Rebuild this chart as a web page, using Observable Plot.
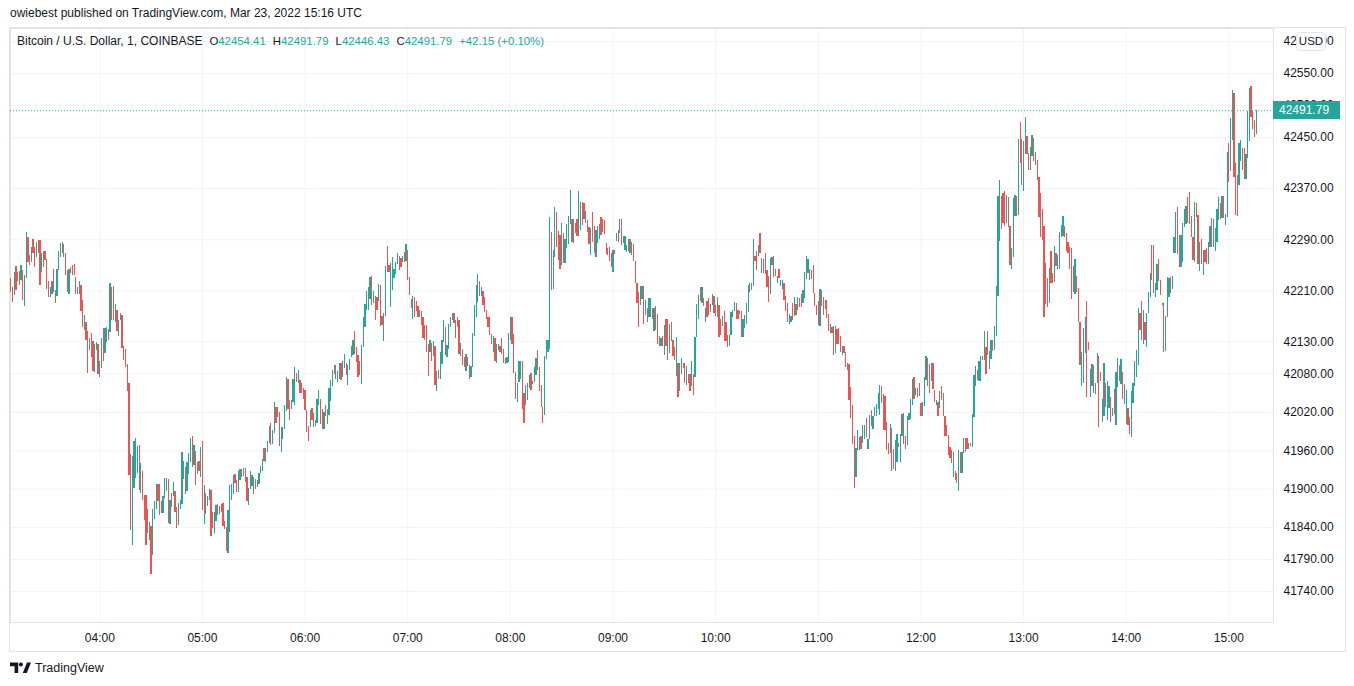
<!DOCTYPE html>
<html><head><meta charset="utf-8">
<script src="https://cdn.jsdelivr.net/npm/d3@7"></script>
<script src="https://cdn.jsdelivr.net/npm/@observablehq/plot@0.6"></script>
<style>
body{margin:0;background:#fff;font-family:"Liberation Sans",Arial,sans-serif;color:#131722;}
#wrap{position:relative;width:1354px;height:686px;overflow:hidden;background:#fff;}
#chart{position:absolute;left:0;top:0;}
#pub{position:absolute;left:10px;top:6px;font-size:12px;white-space:nowrap;}
#frame{position:absolute;left:9px;top:27px;width:1335px;height:623px;border:1px solid #e0e3eb;pointer-events:none;}
#legend{position:absolute;left:17px;top:34px;font-size:12px;white-space:nowrap;display:flex;gap:7px;align-items:baseline;}
#legend .g{font-size:11.4px;}
#legend .v{color:#26a69a;}
#usd{position:absolute;left:1296px;top:32px;width:28px;height:17px;line-height:17px;border:1px solid #e0e3eb;border-radius:4px;background:#fff;font-size:11.5px;text-align:center;}
#plabel{position:absolute;left:1273px;width:67px;height:18px;line-height:18px;background:#26a69a;color:#fff;font-size:12px;padding-left:6px;box-sizing:border-box;}
#logo{position:absolute;left:10px;top:661px;font-size:12.5px;display:flex;align-items:center;gap:4px;}
</style></head><body>
<div id="wrap">
  <div id="chart"></div>
  <div id="frame"></div>
  <div id="pub">owiebest published on TradingView.com, Mar 23, 2022 15:16 UTC</div>
  <div id="legend"></div>
  <div id="usd">USD</div>
  <div id="plabel"></div>
  <div id="logo"><svg width="21" height="12" viewBox="0 0 23 12"><path d="M0 0H9V11.5H5V4H0Z" fill="#131722"/><circle cx="12" cy="2.2" r="2.2" fill="#131722"/><path d="M14 11.5L18.6 0H23L18.4 11.5Z" fill="#131722"/></svg><span>TradingView</span></div>
</div>
<script>
// ---- data: 1-minute candles, [open, close] ----
const bars0308 = [[42229,42208],[42216,42192],[42203,42239],[42248,42210],[42239,42224],[42241,42218],[42226,42250],[42242,42195],[42185,42234],[42230,42302],[42294,42255],[42265,42250],[42255,42278],[42291,42268],[42278,42247],[42263,42286],[42289,42268],[42289,42218],[42239,42269],[42247,42271],[42272,42257],[42259,42213],[42224,42199],[42200,42216],[42205,42224],[42243,42208],[42211,42191],[42201,42243],[42242,42271],[42263,42284],[42268,42285],[42282,42263],[42269,42234],[42242,42208],[42205,42244],[42247,42237],[42250,42234],[42251,42234],[42231,42205],[42216,42204],[42205,42224],[42218,42178],[42195,42153],[42148,42171],[42161,42132],[42147,42081],[42117,42135],[42144,42106],[42131,42084],[42083,42127],[42117,42130],[42126,42079],[42075,42100],[42088,42135],[42152,42099],[42112,42152],[42130,42153],[42149,42133],[42145,42222],[42215,42164],[42217,42163],[42160,42189],[42179,42147],[42138,42164],[42164,42175],[42172,42120],[42123,42101],[42119,42091],[42095,42052],[42065,41921],[41955,41835],[41812,41951],[41901,41974],[41916,41979],[41924,41966],[41968,41898],[41893,41940],[41928,41883],[41890,41851],[41890,41812],[41868,41830],[41820,41848],[41842,41767],[41796,41868],[41852,41880],[41868,41907],[41907,41880],[41907,41859],[41880,41862],[41862,41888],[41885,41916]];
const bars0439 = [[41897,41916],[41915,41846],[41845,41882],[41872,41894],[41889,41910],[41897,41863],[41871,41838],[41843,41877],[41868,41883],[41876,41958],[41915,41944],[41934,41892],[41897,41941],[41923,41956],[41941,41980],[41982,41934],[41937,41968],[41959,41906],[41923,41942],[41944,41927],[41918,41965],[41974,41866],[41845,41906],[41894,41860],[41873,41889],[41883,41899],[41898,41826],[41864,41838],[41831,41863],[41849,41875],[41876,41859],[41860,41873],[41876,41863],[41877,41842],[41850,41837],[41840,41803],[41800,41866],[41833,41906],[41883,41907],[41892,41921],[41923,41909],[41913,41895],[41895,41928],[41913,41930],[41930,41919],[41920,41932],[41932,41911],[41919,41880],[41875,41901],[41899,41927],[41904,41921],[41918,41892],[41899,41915],[41914,41902],[41908,41925],[41924,41936],[41928,41947],[41963,41944],[41942,41963],[41958,41975],[41972,41998],[42002,41968],[41970,41992],[41987,42036],[42028,42002],[42027,42012],[42020,41967],[41958,41997],[41977,41996],[41994,42031],[42022,42075],[42071,42024],[42039,42008],[42024,42038],[42035,42071],[42031,42091],[42081,42067],[42065,42086],[42070,42049],[42065,42049],[42058,42040],[42055,42023],[42023,41988],[41998,41975],[41996,42023],[42026,42008],[42019,41996],[41998,42008],[42003,42041],[42031,42055],[42040,42001],[42024,41993],[41994,42020],[42013,42031]];
const bars0613 = [[42025,42001],[42015,42057],[42037,42070],[42060,42085],[42079,42093],[42093,42072],[42067,42084],[42072,42096],[42097,42070],[42074,42100],[42088,42110],[42097,42078],[42062,42093],[42085,42102],[42106,42123],[42109,42133],[42147,42111],[42122,42098],[42109,42075],[42100,42078],[42064,42124],[42122,42169],[42153,42189],[42179,42209],[42180,42216],[42197,42231],[42232,42187],[42190,42209],[42201,42164],[42200,42180],[42194,42220],[42218,42154],[42170,42156],[42131,42174],[42170,42248],[42279,42239],[42250,42239],[42184,42253],[42210,42263],[42229,42244],[42235,42255],[42251,42268],[42264,42242],[42261,42246],[42255,42264],[42270,42255],[42256,42282],[42273,42227],[42231,42203],[42197,42183],[42165,42201],[42200,42168],[42194,42178],[42185,42168],[42169,42179],[42178,42156],[42169,42135],[42156,42133],[42156,42114],[42127,42076],[42114,42132],[42128,42100],[42107,42131],[42123,42062],[42052,42084],[42085,42072],[42072,42114],[42095,42132],[42130,42164],[42153,42109],[42106,42124],[42119,42157],[42153,42169],[42164,42174],[42174,42159],[42164,42135],[42153,42169],[42164,42111],[42107,42128],[42119,42093],[42106,42090],[42084,42111],[42106,42092],[42093,42071],[42074,42092],[42091,42143],[42138,42187],[42168,42218],[42192,42236],[42225,42201],[42201,42215],[42209,42187],[42200,42177]];
const bars0746 = [[42180,42166],[42169,42153],[42168,42140],[42142,42127],[42114,42139],[42135,42100],[42097,42126],[42117,42126],[42123,42114],[42136,42111],[42119,42097],[42105,42095],[42096,42106],[42098,42144],[42132,42169],[42169,42127],[42142,42081],[42083,42040],[42036,42065],[42067,42100],[42072,42100],[42100,42024],[42050,42003],[42031,42062],[42039,42066],[42057,42078],[42081,42054],[42069,42064],[42067,42091],[42078,42104],[42117,42086],[42091,42052],[42062,42027],[42027,42002],[42015,42107],[42102,42133],[42114,42133],[42119,42325],[42302,42210],[42213,42274],[42263,42341],[42333,42278],[42303,42258],[42296,42243],[42250,42316],[42300,42253],[42253,42290],[42277,42314],[42283,42326],[42314,42367],[42322,42286],[42284,42321],[42316,42300],[42321,42295],[42295,42366],[42305,42348],[42348,42312],[42347,42321],[42316,42334],[42320,42302],[42309,42283],[42265,42308],[42333,42286],[42310,42269],[42262,42304],[42284,42310],[42290,42314],[42325,42296],[42322,42302],[42320,42299],[42284,42267],[42277,42265],[42278,42256],[42269,42247],[42239,42274],[42274,42267],[42288,42300],[42304,42286],[42300,42321],[42321,42281],[42284,42295],[42273,42295],[42270,42281],[42290,42272],[42269,42290],[42286,42265],[42282,42256],[42256,42221],[42222,42190],[42208,42153],[42187,42217],[42196,42217],[42217,42158],[42171,42195]];
const bars0920 = [[42183,42161],[42169,42198],[42168,42198],[42183,42166],[42147,42182],[42186,42148],[42173,42126],[42139,42123],[42123,42135],[42138,42123],[42109,42156],[42166,42123],[42165,42101],[42112,42157],[42161,42131],[42132,42107],[42122,42101],[42076,42137],[42097,42044],[42052,42096],[42079,42104],[42097,42088],[42096,42065],[42062,42092],[42080,42066],[42080,42053],[42061,42099],[42080,42046],[42074,42137],[42137,42189],[42166,42203],[42216,42194],[42191,42216],[42198,42186],[42161,42182],[42194,42168],[42198,42172],[42177,42189],[42187,42204],[42201,42175],[42187,42170],[42168,42200],[42187,42137],[42165,42140],[42154,42170],[42178,42131],[42160,42131],[42140,42121],[42123,42140],[42140,42177],[42169,42180],[42178,42192],[42190,42166],[42180,42166],[42173,42178],[42178,42137],[42137,42166],[42151,42172],[42157,42190],[42177,42218],[42208,42222],[42222,42211],[42217,42291],[42264,42256],[42271,42242],[42264,42281],[42300,42268],[42237,42260],[42259,42237],[42269,42236],[42242,42216],[42232,42192],[42204,42260],[42250,42263],[42264,42231],[42243,42232],[42222,42232],[42244,42229],[42217,42227],[42213,42227],[42222,42195],[42201,42178],[42190,42161],[42157,42173],[42161,42170],[42190,42164],[42170,42199],[42189,42172],[42179,42200],[42198,42184],[42204,42184],[42191,42210],[42198,42239]];
const bars1053 = [[42228,42264],[42237,42259],[42243,42226],[42242,42228],[42250,42206],[42206,42185],[42187,42172],[42193,42156],[42154,42212],[42210,42186],[42200,42172],[42195,42181],[42195,42167],[42173,42147],[42144,42158],[42153,42143],[42155,42109],[42112,42155],[42149,42126],[42151,42126],[42139,42114],[42109,42123],[42123,42112],[42113,42090],[42096,42085],[42095,42039],[42059,42010],[42031,41970],[41983,41901],[41919,41963],[41960,41992],[41960,41981],[41982,41962],[41972,42000],[41977,42000],[42010,41981],[41962,41977],[41977,42015],[42023,41998],[41993,42014],[42014,42028],[42014,42033],[42024,42049],[42015,42062],[42060,42034],[42048,41992],[42045,41992],[42005,41960],[41972,41955],[41956,42001],[41995,41927],[41962,41931],[41927,41976],[41941,41986],[41972,41965],[41941,41986],[41982,42017],[42018,41970],[41982,41962],[41969,42014],[42008,42019],[42009,42040],[42031,42071],[42074,42040],[42047,42057],[42057,42044],[42066,42045],[42034,42013],[42014,42035],[42029,42074],[42070,42108],[42104,42061],[42095,42050],[42069,42097],[42096,42056],[42054,42035],[42031,42039],[42036,42013],[42026,42052],[42061,42039],[42049,42013],[42014,41983],[42000,41983],[41984,41953],[41965,41948],[41960,41940],[41919,41957],[41927,41914],[41925,41909],[41896,41960],[41957,41924],[41925,41957],[41956,41979],[41979,41957]];
const bars1227 = [[41979,41962],[41962,41971],[41972,41966],[41965,42017],[42012,42077],[42061,42092],[42086,42070],[42068,42099],[42069,42107],[42107,42101],[42101,42146],[42122,42080],[42146,42109],[42087,42116],[42102,42132],[42132,42116],[42117,42155],[42138,42217],[42202,42357],[42287,42382],[42358,42306],[42363,42316],[42365,42310],[42315,42360],[42356,42309],[42310,42250],[42243,42276],[42263,42354],[42326,42360],[42357,42327],[42328,42447],[42473,42409],[42447,42375],[42366,42443],[42424,42481],[42452,42424],[42425,42398],[42398,42435],[42420,42453],[42448,42413],[42427,42406],[42414,42383],[42388,42325],[42363,42294],[42337,42289],[42311,42168],[42253,42189],[42229,42184],[42191,42245],[42271,42222],[42238,42221],[42223,42280],[42268,42248],[42243,42266],[42243,42302],[42294,42313],[42295,42327],[42310,42294],[42300,42271],[42285,42268],[42278,42243],[42276,42196],[42248,42207],[42205,42259],[42233,42207],[42214,42160],[42160,42094],[42060,42113],[42066,42151],[42112,42168],[42194,42043],[42130,42117],[42043,42087],[42060,42095],[42094,42050],[42048,42066],[42065,42112],[42108,41996],[42082,42069],[42005,42040],[42013,42096],[42066,42028],[42008,42068],[42026,42061],[42043,42004],[42014,42026],[42056,42016],[42000,42083],[42059,42104],[42094,42069],[42063,42103],[42083,42040],[42033,42063]];
const bars1400 = [[42001,42054],[42026,42000],[42012,41985],[41981,42053],[42034,42065],[42060,42099],[42075,42117],[42094,42182],[42174,42148],[42193,42132],[42126,42179],[42161,42133],[42121,42175],[42175,42208],[42200,42238],[42281,42226],[42281,42206],[42200,42221],[42210,42251],[42259,42224],[42226,42203],[42191,42187],[42190,42113],[42116,42170],[42169,42231],[42200,42229],[42231,42206],[42212,42232],[42269,42294],[42269,42332],[42340,42267],[42297,42247],[42247,42297],[42255,42315],[42309,42337],[42314,42342],[42356,42315],[42364,42314],[42326,42294],[42294,42258],[42254,42349],[42347,42325],[42328,42251],[42241,42285],[42290,42252],[42234,42273],[42274,42254],[42276,42252],[42251,42285],[42278,42310],[42323,42278],[42278,42321],[42272,42307],[42286,42337],[42320,42356],[42347,42321],[42323,42357],[42358,42324],[42312,42330],[42325,42427],[42440,42380],[42396,42479],[42446,42523],[42518,42387],[42409,42328],[42391,42326],[42375,42440],[42413,42446],[42432,42399],[42432,42384],[42384,42424],[42417,42490],[42444,42526],[42529,42482],[42491,42462],[42476,42449.64],[42454.41,42491.79]];
const firstCandle = "2022-03-23T03:08:00Z";
const lastHigh = 42491.79, lastLow = 42446.43;
const hourLabels = ["04:00","05:00","06:00","07:00","08:00","09:00","10:00","11:00","12:00","13:00","14:00","15:00"];
const priceTicks = [42600,42550,42500,42450,42370,42290,42210,42130,42080,42020,41960,41900,41840,41790,41740];
const symbolTitle = "Bitcoin / U.S. Dollar, 1, COINBASE";

const green = "#26a69a", red = "#ef5350";
const allBars = [...bars0308,...bars0439,...bars0613,...bars0746,...bars0920,...bars1053,...bars1227,...bars1400];
const t0 = new Date(firstCandle).getTime();
const data = allBars.map(([o,c],i)=>({time:new Date(t0+i*60000), open:o, close:c}));
const last = data[data.length-1], prev = data[data.length-2];
const hourTicks = hourLabels.map(h=>new Date(`2022-03-23T${h}:00Z`));

const xDomain = [new Date("2022-03-23T03:07:48Z"), new Date("2022-03-23T15:26:06Z")];
const yDomain = [41691.5, 42620.4];

const chart = Plot.plot({
  width:1354, height:652,
  marginTop:28, marginBottom:30, marginLeft:10, marginRight:81,
  style:{fontSize:"12px", fontFamily:"'Liberation Sans', Arial, sans-serif", color:"#131722", background:"#fff"},
  color:{type:"identity"},
  x:{type:"utc", domain:xDomain, ticks:hourTicks, tickFormat:d3.utcFormat("%H:%M"), tickSize:0, tickPadding:11, label:null},
  y:{domain:yDomain, ticks:priceTicks, tickFormat:d=>d.toFixed(2), tickSize:0, tickPadding:10, label:null, axis:"right"},
  marks:[
    Plot.gridX(hourTicks,{stroke:"#f0f3fa", strokeOpacity:1}),
    Plot.gridY(priceTicks,{stroke:"#f0f3fa", strokeOpacity:1}),
    Plot.frame({stroke:"#e0e3eb"}),
    Plot.ruleY([last.close],{stroke:green, strokeDasharray:"1,2", strokeWidth:1}),
    Plot.ruleX(data,{x:"time", y1:"open", y2:"close", stroke:d=>d.close>=d.open?green:red, strokeWidth:1.25, shapeRendering:"crispEdges"})
  ]
});
document.getElementById("chart").appendChild(chart);

const ch = last.close - prev.close;
const pct = ch/prev.close*100;
const fmt = v=>v.toFixed(2);
document.getElementById("legend").innerHTML =
  `<span>${symbolTitle}</span>`+
  `<span class="g">O<span class="v">${fmt(last.open)}</span></span>`+
  `<span class="g">H<span class="v">${fmt(lastHigh)}</span></span>`+
  `<span class="g">L<span class="v">${fmt(lastLow)}</span></span>`+
  `<span class="g">C<span class="v">${fmt(last.close)}</span></span>`+
  `<span class="g v">${ch>=0?"+":""}${fmt(ch)} (${pct>=0?"+":""}${fmt(pct)}%)</span>`;

const py = chart.scale("y").apply(last.close);
const pl = document.getElementById("plabel");
pl.textContent = fmt(last.close);
pl.style.top = (py-9)+"px";
</script>
</body></html>
